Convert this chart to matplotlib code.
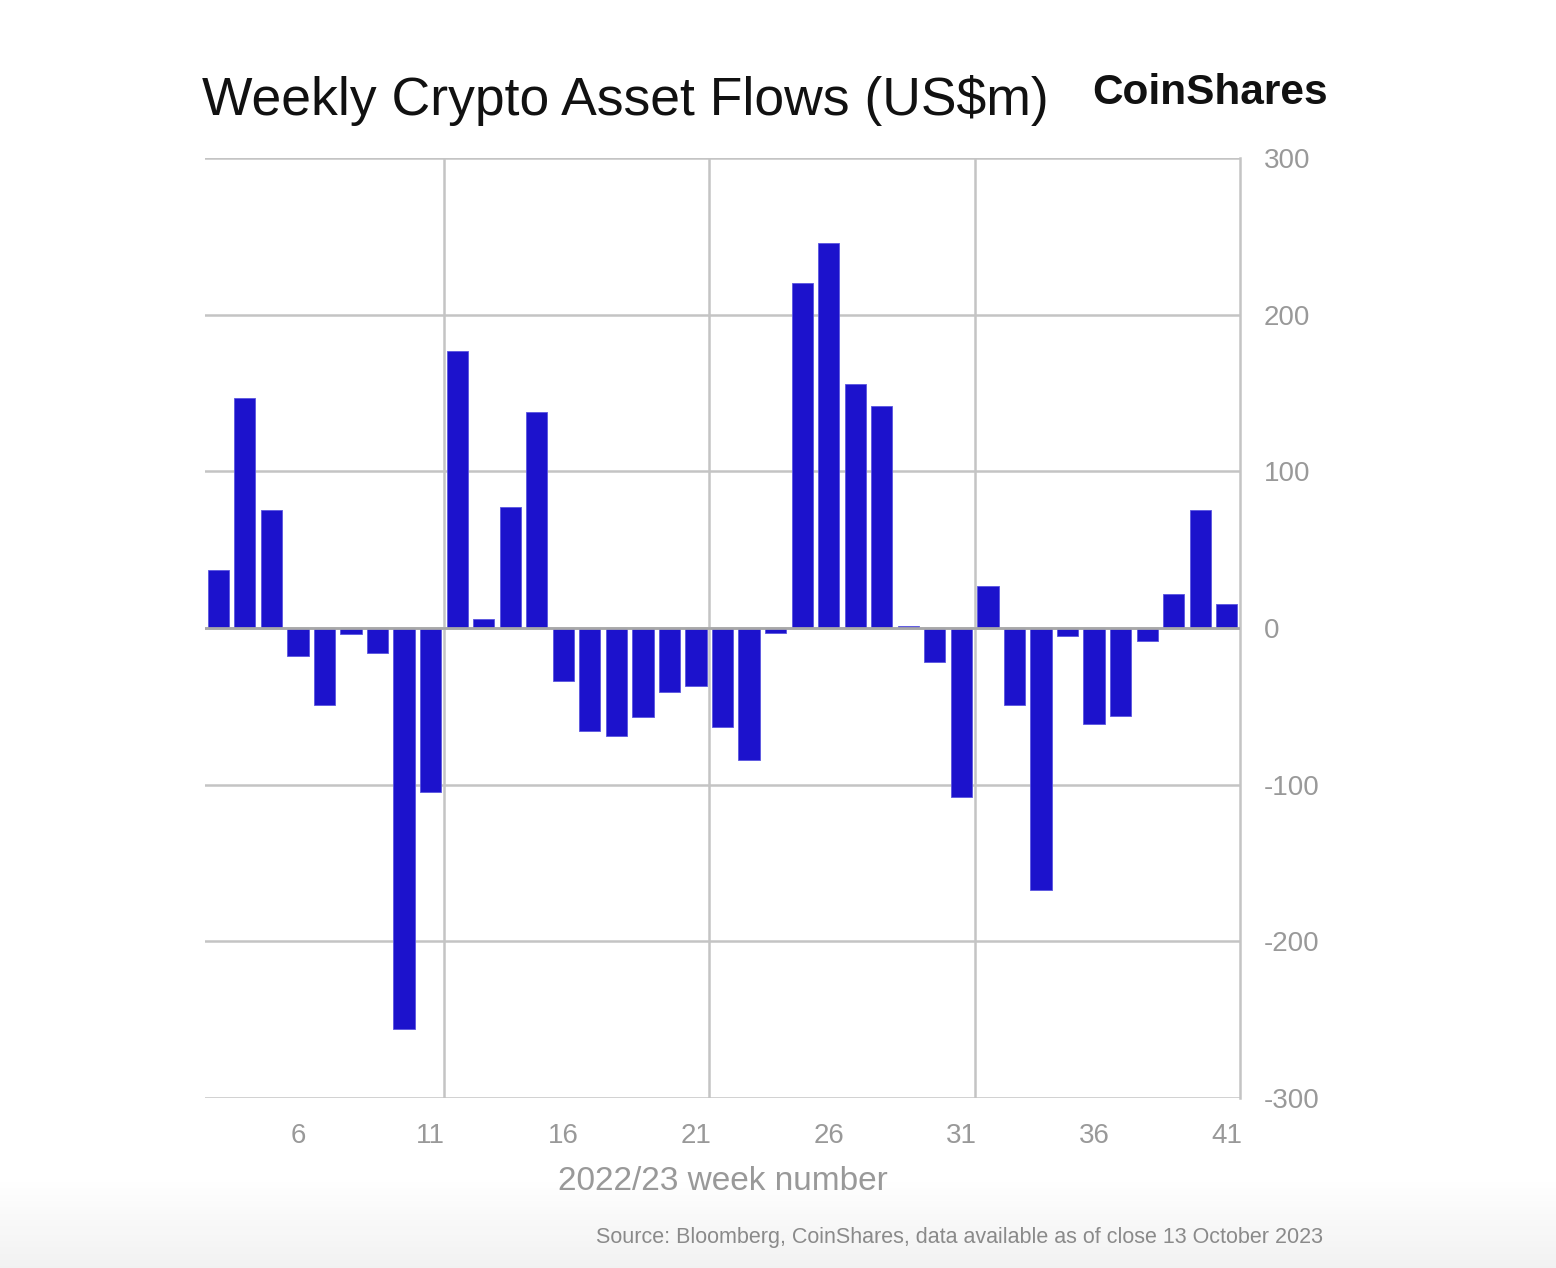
import matplotlib
matplotlib.use('Agg')
import matplotlib.pyplot as plt
import numpy as np

# Week numbers and weekly flows (US$m)
WEEKS = list(range(3, 42))
FLOWS = [37, 147, 75, -18, -49, -4, -16, -256, -105, 177,
         6, 77, 138, -34, -66, -69, -57, -41, -37, -63,
         -84, -3, 220, 246, 156, 142, 1, -22, -108, 27,
         -49, -167, -5, -61, -56, -8, 22, 75, 15]
TICK_WEEKS = [6, 11, 16, 21, 26, 31, 36, 41]
Y_TICKS = [-300, -200, -100, 0, 100, 200, 300]

BAR_COLOR = '#1C12CC'
GRID_COLOR = '#c4c4c4'
TEXT_GRAY = '#999999'

plt.rcParams['font.family'] = ['Liberation Sans', 'DejaVu Sans']
plt.rcParams['axes.unicode_minus'] = False


def main():
    fig = plt.figure(figsize=(15.56, 12.68), dpi=100)

    # light grey fade at the bottom of the image
    bg = fig.add_axes([0, 0, 1, 0.07], zorder=-10)
    grad = np.linspace(0, 1, 100).reshape(-1, 1)
    bg.imshow(grad, aspect='auto', cmap='Greys', vmin=0, vmax=9, extent=[0, 1, 0, 1])
    bg.axis('off')

    ax = fig.add_axes([205 / 1556, 1 - 1098 / 1268, 1035 / 1556, 940 / 1268])
    ax.bar(WEEKS, FLOWS, width=0.8, color=BAR_COLOR, edgecolor='#5a55e0', linewidth=0.6, zorder=3)

    ax.set_xlim(WEEKS[0] - 0.5, WEEKS[-1] + 0.5)
    ax.set_ylim(-300, 300)

    ax.set_yticks(Y_TICKS)
    ax.yaxis.tick_right()
    ax.tick_params(axis='y', length=0, pad=17, labelsize=20, labelcolor=TEXT_GRAY)
    ax.set_xticks(TICK_WEEKS)
    ax.set_xticks([11.5, 21.5, 31.5], minor=True)
    ax.tick_params(axis='x', which='both', length=0, pad=18, labelsize=20, labelcolor=TEXT_GRAY)

    ax.grid(axis='y', color=GRID_COLOR, linewidth=1.8, zorder=0)
    ax.grid(axis='x', which='minor', color=GRID_COLOR, linewidth=1.8, zorder=0)
    ax.axhline(0, color='#a8a8a8', linewidth=2, zorder=4)

    for side in ['top', 'left', 'bottom']:
        ax.spines[side].set_visible(False)
    ax.spines['right'].set_color(GRID_COLOR)
    ax.spines['right'].set_linewidth(1.8)

    ax.set_xlabel('2022/23 week number', fontsize=24, color=TEXT_GRAY, labelpad=12)

    fig.text(202 / 1556, 1 - 100 / 1268, 'Weekly Crypto Asset Flows (US$m)',
             fontsize=38.5, color='#111111', va='center', ha='left')
    fig.text(1328 / 1556, 1 - 93 / 1268, 'CoinShares', fontsize=30.5, fontweight='bold',
             color='#111111', va='center', ha='right')
    fig.text(1323 / 1556, 1 - 1238 / 1268,
             'Source: Bloomberg, CoinShares, data available as of close 13 October 2023',
             fontsize=15.5, color='#8a8a8a', va='center', ha='right')

    fig.savefig('out.png', dpi=100, facecolor='white')


if __name__ == '__main__':
    main()
